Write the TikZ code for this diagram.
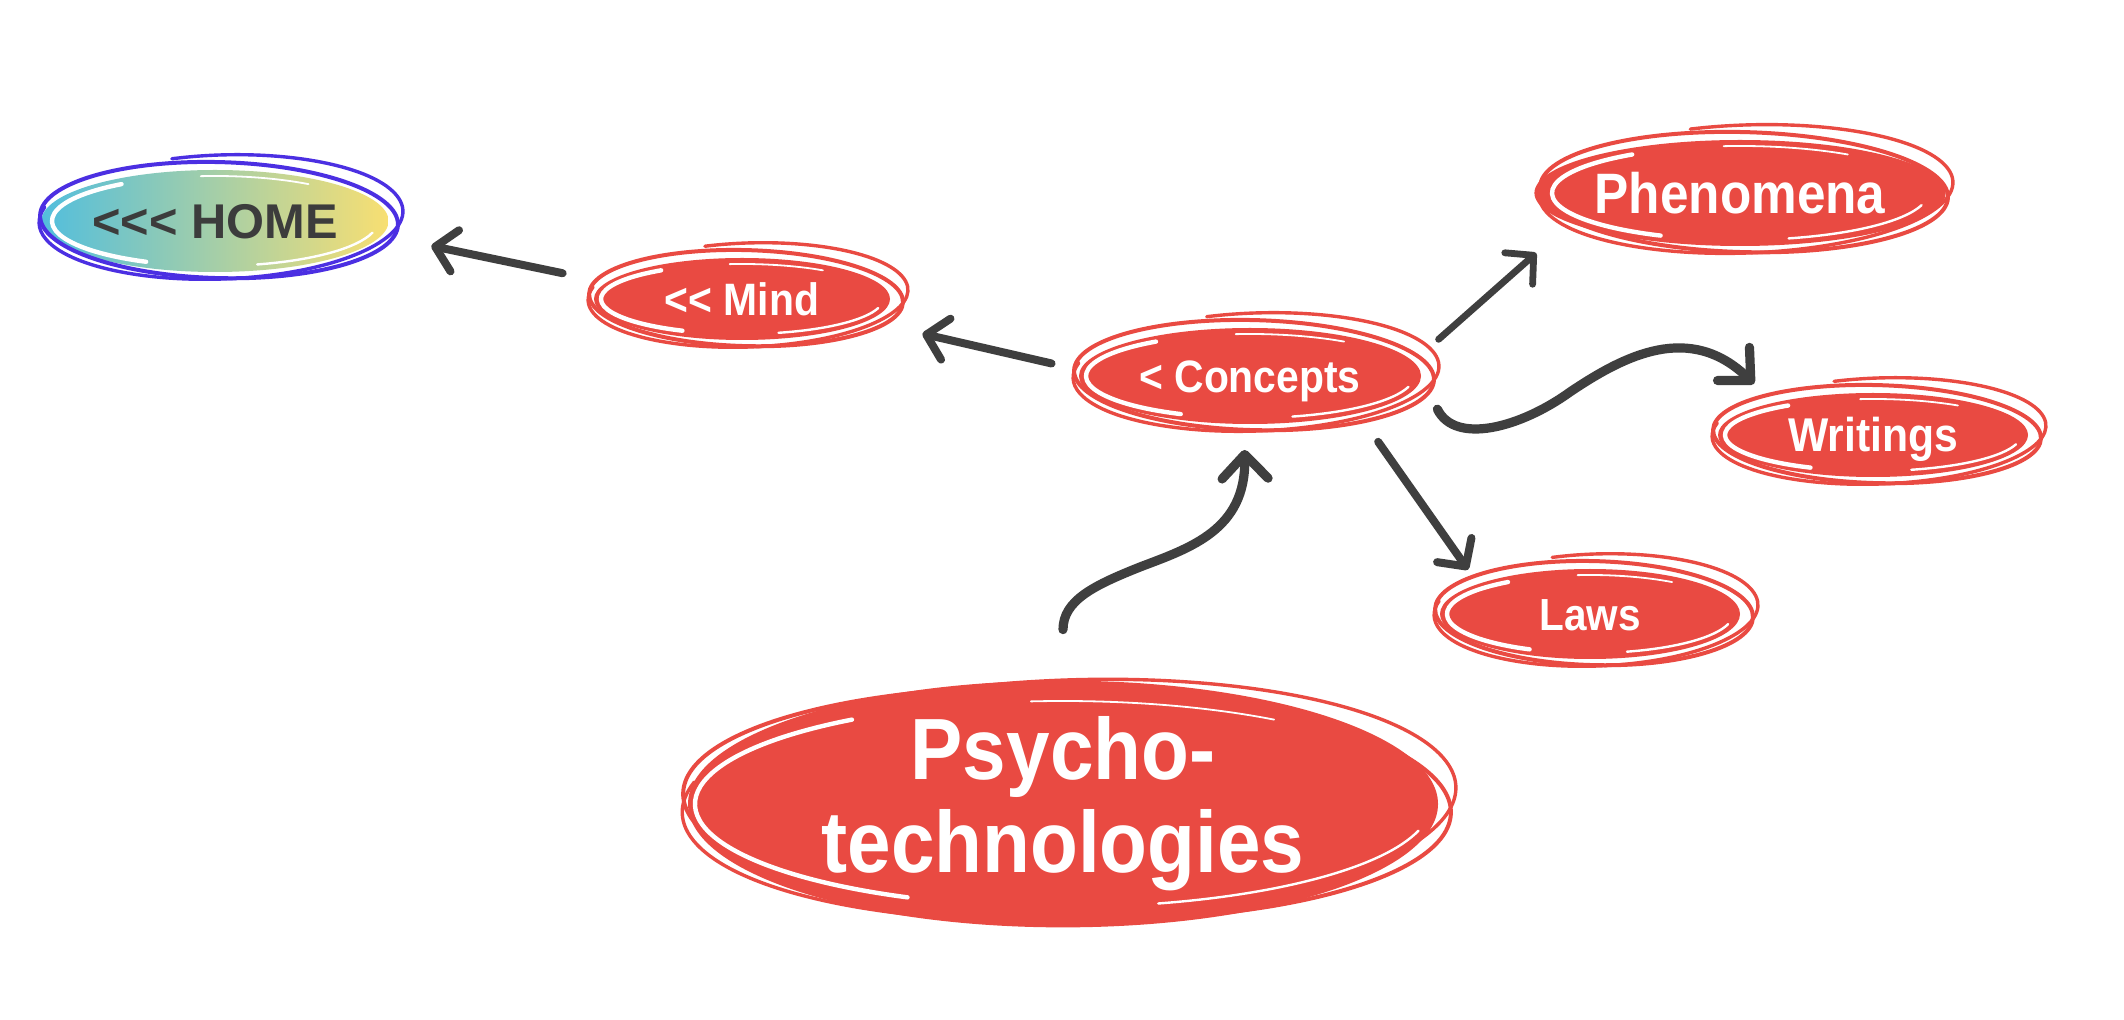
\documentclass[tikz,border=0pt]{standalone}
\usepackage{fontspec}
\usetikzlibrary{arrows.meta,shapes.geometric}
\newfontfamily\nfont{Liberation Sans}[FakeStretch=0.9]
\newfontfamily\hfont{Liberation Sans}
\definecolor{bred}{HTML}{E94A42}
\definecolor{agray}{HTML}{3F3F3F}
\definecolor{hblue}{HTML}{4B2FE2}
\definecolor{hcyan}{HTML}{52BEDD}
\definecolor{hyellow}{HTML}{F8DF72}
\definecolor{htext}{HTML}{3C3C3C}
% partial elliptic arc centred at origin: #1 rx, #2 ry, #3 start, #4 end
\newcommand\sketcharc[4]{({#1*cos(#3)},{#2*sin(#3)}) arc[start angle=#3, end angle=#4, x radius=#1, y radius=#2]}
% sketchy double outline around a node: #1 node, #2 rx, #3 ry (px), #4 colour
\newcommand\sketchring[4]{%
  \pgfmathsetmacro\skA{#2+9}\pgfmathsetmacro\skB{#3+7}%
  \pgfmathsetmacro\skC{#2+12}\pgfmathsetmacro\skD{#3+11}%
  \pgfmathsetmacro\skE{#2-7}\pgfmathsetmacro\skF{#3-6}%
  \begin{scope}[shift={(#1.center)}]
    \draw[#4, line width=2pt, rotate=-1.5] (4,1) ellipse [x radius=\skA, y radius=\skB];
    \begin{scope}[shift={(6,4)}, rotate=2]
      \draw[#4, line width=1.7pt, line cap=round] \sketcharc{\skC}{\skD}{105}{-195};
    \end{scope}
    \draw[white, line width=2.2pt, line cap=round] \sketcharc{\skE}{\skF}{125}{245};
    \draw[white, line width=1.2pt, line cap=round] \sketcharc{\skE}{\skF}{-75}{-15};
    \draw[white, line width=0.9pt, line cap=round] \sketcharc{\skE}{\skF}{55}{95};
  \end{scope}}
\begin{document}
\begin{tikzpicture}[x=0.5pt,y=0.5pt,
  bubble/.style={ellipse, fill=bred, text=white, inner sep=0pt, outer sep=0pt},
  arr/.style={draw=agray, line width=4pt, line cap=round,
    -{Straight Barb[length=10pt,width=21pt,round]}},
  bigarr/.style={arr, line width=4.6pt, -{Straight Barb[length=12pt,width=23pt,round]}}]
\useasboundingbox (0,0) rectangle (2124,-1020);
\fill[white] (0,0) rectangle (2124,-1020);

% nodes
\node[ellipse, left color=hcyan, right color=hyellow, inner sep=0pt, outer sep=0pt,
  minimum width=170pt, minimum height=51pt, text=htext,
  font=\hfont\bfseries\fontsize{24.4pt}{26pt}\selectfont,
  text height=17.5pt, text depth=0pt] (home) at (215,-221) {<\kern0pt<\kern0pt< HOME};
\node[bubble, minimum width=148pt, minimum height=41pt,
  font=\nfont\bfseries\fontsize{22.7pt}{24pt}\selectfont,
  text height=16.3pt, text depth=0pt] (mind) at (742,-299) {<\kern0pt< Mind};
\node[bubble, minimum width=171pt, minimum height=48pt,
  font=\nfont\bfseries\fontsize{22.7pt}{24pt}\selectfont,
  text height=16.3pt, text depth=0pt] (concepts) at (1250,-376) {< Concepts};
\node[bubble, minimum width=195pt, minimum height=53pt,
  font=\nfont\bfseries\fontsize{28.5pt}{30pt}\selectfont,
  text height=20.4pt, text depth=0pt] (phenomena) at (1740,-193) {Phenomena};
\node[bubble, minimum width=155pt, minimum height=42pt,
  font=\nfont\bfseries\fontsize{23.7pt}{25pt}\selectfont,
  text height=17pt, text depth=0pt] (writings) at (1873,-435) {Writings};
\node[bubble, minimum width=150pt, minimum height=45pt,
  font=\nfont\bfseries\fontsize{22.5pt}{24pt}\selectfont,
  text height=16.1pt, text depth=0pt] (laws) at (1590,-614) {Laws};
\node[bubble, minimum width=375pt, minimum height=109pt, align=center,
  font=\nfont\bfseries\fontsize{43.5pt}{46.5pt}\selectfont] (psycho) at (1063,-804) {Psycho-\\technologies};

% sketchy outlines
\sketchring{home}{170}{51}{hblue}
\sketchring{mind}{148}{41}{bred}
\sketchring{concepts}{171}{48}{bred}
\sketchring{phenomena}{195}{53}{bred}
\sketchring{writings}{155}{42}{bred}
\sketchring{laws}{150}{45}{bred}
\sketchring{psycho}{375}{109}{bred}

% connectors
\draw[arr, shorten <=22.5pt, shorten >=25.5pt] (mind.173.9) -- (home.-5.5);
\draw[arr, shorten <=14.75pt, shorten >=28.5pt] (concepts.178.5) -- (mind.-10.9);
\draw[arr, line width=3.4pt, shorten <=16.9pt, shorten >=22.75pt] (concepts.5) -- (phenomena.190.5);
\draw[bigarr, shorten <=18.5pt, shorten >=13.65pt] (concepts.0)
  .. controls (1455,-445) and (1520,-428) .. (1570,-392)
  .. controls (1625,-355) and (1690,-322) .. (writings.162.7);
\draw[arr, shorten <=17.5pt, shorten >=8.75pt] (concepts.-19.1) -- (laws.165.3);
\draw[bigarr, shorten <=25.5pt, shorten >=13pt] (psycho.north)
  .. controls (1063,-600) and (1095,-585) .. (1140,-567)
  .. controls (1190,-548) and (1246,-530) .. (concepts.-97);
\end{tikzpicture}
\end{document}
